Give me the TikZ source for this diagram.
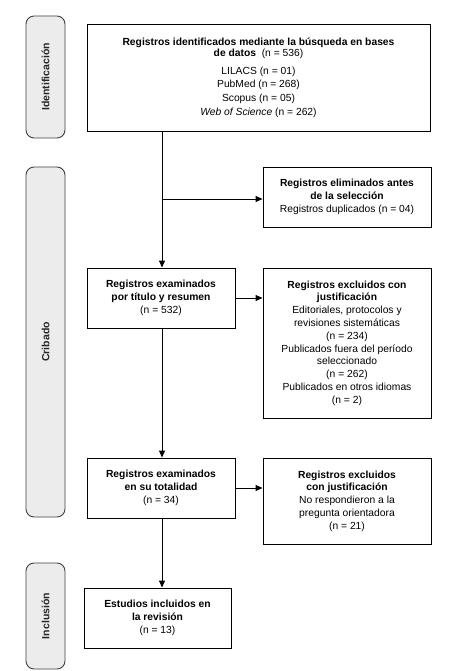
\documentclass[tikz,border=0pt]{standalone}
\usepackage{fontspec}
\setmainfont{Liberation Sans}
\usetikzlibrary{arrows.meta}
\definecolor{sidefill}{HTML}{ECECEC}
\definecolor{sidedraw}{HTML}{404040}
\definecolor{sidetext}{HTML}{262626}
\begin{document}
\begin{tikzpicture}[x=1pt,y=-1pt,
  every node/.style={font=\fontsize{10.3}{12.8}\selectfont},
  box/.style={draw=black,line width=0.9pt,inner sep=0pt,align=center},
  side/.style={draw=sidedraw,fill=sidefill,line width=0.9pt,rounded corners=8pt,inner sep=0pt},
  sidelabel/.style={rotate=90,text=sidetext,font=\fontsize{10.5}{12.8}\selectfont\bfseries},
  arr/.style={line width=0.9pt,-{Triangle[length=7pt,width=6pt]}},
  ln/.style={line width=0.9pt}]
\useasboundingbox (0,0) rectangle (471,671);
% side boxes
\node[side,minimum width=39pt,minimum height=122pt] (s1) at (45.5,77) {};
\node[sidelabel] (l1) at (s1.center) {Identificación};
\node[side,minimum width=39pt,minimum height=350pt] (s2) at (45.5,342) {};
\node[sidelabel] (l2) at (s2.center) {Cribado};
\node[side,minimum width=39pt,minimum height=106pt] (s3) at (45.5,616) {};
\node[sidelabel] (l3) at (s3.center) {Inclusión};
% main boxes
\node[box,minimum width=343pt,minimum height=107pt,font=\fontsize{10.3}{13.6}\selectfont] (b1) at (258.5,77.5)
 {\textbf{Registros identificados mediante la búsqueda en bases}\\[-2.6pt]\textbf{de datos}\ \ (n = 536)\\[4.2pt]LILACS (n = 01)\\PubMed (n = 268)\\Scopus (n = 05)\\\textit{Web of Science} (n = 262)};
\node[box,minimum width=168pt,minimum height=60pt] (e0) at (347,197)
 {\textbf{Registros eliminados antes}\\\textbf{de la selección}\\Registros duplicados (n = 04)};
\node[box,minimum width=148pt,minimum height=60pt] (b2) at (161,298)
 {\textbf{Registros examinados}\\\textbf{por título y resumen}\\(n = 532)};
\node[box,minimum width=168pt,minimum height=150pt] (e1) at (347,343)
 {\textbf{Registros excluidos con}\\\textbf{justificación}\\Editoriales, protocolos y\\revisiones sistemáticas\\(n = 234)\\Publicados fuera del período\\seleccionado\\(n = 262)\\Publicados en otros idiomas\\(n = 2)};
\node[box,minimum width=148pt,minimum height=60pt] (b3) at (161,488)
 {\textbf{Registros examinados}\\\textbf{en su totalidad}\\(n = 34)};
\node[box,minimum width=168pt,minimum height=86pt] (e2) at (347,501)
 {\textbf{Registros excluidos}\\\textbf{con justificación}\\No respondieron a la\\pregunta orientadora\\(n = 21)};
\node[box,minimum width=147pt,minimum height=60pt] (b4) at (157.5,618)
 {\textbf{Estudios incluidos en}\\\textbf{la revisión}\\(n = 13)};
% connectors
\coordinate (j1) at (162,199);
\draw[ln] (b1.south -| j1) -- (j1);
\draw[arr] (j1) -- (e0.west |- j1);
\draw[arr] (j1) -- (b2.north -| j1);
\draw[arr] (b2.east) -- (e1.west |- b2.east);
\draw[arr] (b2.south -| j1) -- (b3.north -| j1);
\draw[arr] (b3.east) -- (e2.west |- b3.east);
\draw[arr] (b3.south -| j1) -- (b4.north -| j1);
\end{tikzpicture}
\end{document}
